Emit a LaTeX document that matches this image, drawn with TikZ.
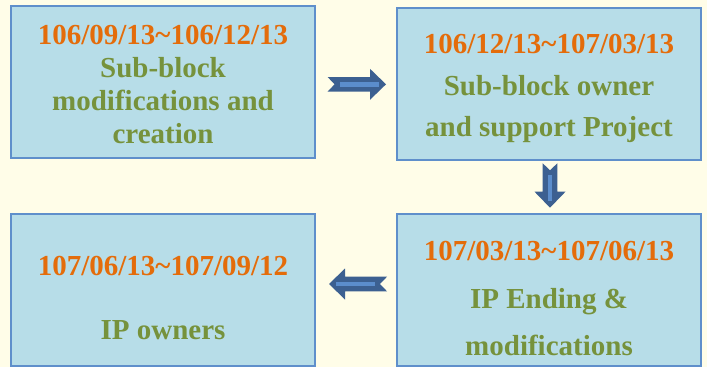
\documentclass[tikz,border=0pt]{standalone}
\usepackage{fontspec}
\setmainfont{Liberation Serif}
\usetikzlibrary{calc}
\definecolor{bgc}{HTML}{FFFDE8}
\definecolor{boxfill}{HTML}{B7DDE8}
\definecolor{boxline}{HTML}{5F8FCB}
\definecolor{datec}{HTML}{E46C0A}
\definecolor{descc}{HTML}{76923C}
\definecolor{arrowc}{HTML}{3C6091}
\definecolor{stripec}{HTML}{5B8DCC}
\begin{document}
\begin{tikzpicture}[x=1pt,y=-1pt,
  box/.style={draw=boxline, fill=boxfill, line width=1.5pt, minimum width=304pt, minimum height=152pt, inner sep=0pt},
  datetxt/.style={anchor=base, text=datec, font=\fontsize{29}{34}\selectfont\bfseries, inner sep=0pt},
  desctxt/.style={anchor=base, text=descc, font=\fontsize{29}{34}\selectfont\bfseries, inner sep=0pt},
  pics/blockarrow/.style={code={
    \fill[arrowc] (-#1,7.3) -- (#1-16,7.3) -- (#1-16,15.5) -- (#1,0) -- (#1-16,-15.5) -- (#1-16,-7.3) -- (-#1,-7.3) -- (-#1+7,0) -- cycle;
    \draw[stripec, line width=4.5pt] (-#1+12,0) -- (#1-7,0);
  }}
]
\fill[bgc] (0,0) rectangle (707,367);
\useasboundingbox (0,0) rectangle (707,367);

\node[box] (b1) at (163,82) {};
\node[box] (b2) at (549,84) {};
\node[box] (b3) at (549,290) {};
\node[box] (b4) at (163,290) {};

\node[datetxt] (d1) at (163,44) {106/09/13\textasciitilde 106/12/13};
\node[desctxt] (s1a) at (163,77) {Sub-block};
\node[desctxt] (s1b) at (163,110) {modifications and};
\node[desctxt] (s1c) at (163,143.5) {creation};

\node[datetxt] (d2) at (549,53.3) {106/12/13\textasciitilde 107/03/13};
\node[desctxt] (s2a) at (549,95) {Sub-block owner};
\node[desctxt] (s2b) at (549,136.7) {and support Project};

\node[datetxt] (d3) at (549,260.7) {107/03/13\textasciitilde 107/06/13};
\node[desctxt] (s3a) at (549,308.3) {IP Ending \&};
\node[desctxt] (s3b) at (549,355) {modifications};

\node[datetxt] (d4) at (163,275.7) {107/06/13\textasciitilde 107/09/12};
\node[desctxt] (s4a) at (163,339.3) {IP owners};

\pic at ($(b1.east)!0.5!(b2.west)+(0.8,1.3)$) {blockarrow=29.2};
\pic[rotate=-90] at ($(b2.south)!0.5!(b3.north)+(1,-1.5)$) {blockarrow=22.2};
\pic[rotate=180] at ($(b3.west)!0.5!(b4.east)+(2,-6)$) {blockarrow=29};
\end{tikzpicture}
\end{document}
